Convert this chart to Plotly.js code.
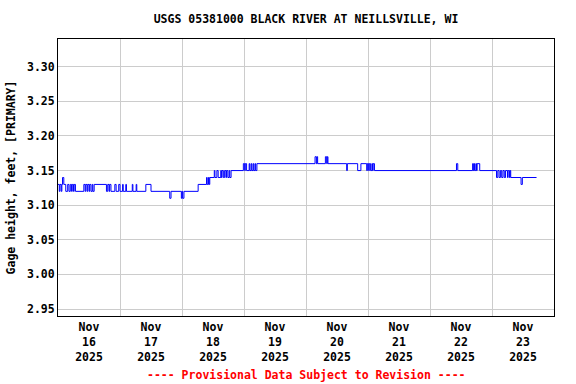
<!DOCTYPE html>
<html>
<head>
<meta charset="utf-8">
<script src="https://cdn.plot.ly/plotly-3.0.1.min.js"></script>
<style>html,body{margin:0;padding:0;background:#fff;}#chart{width:576px;height:384px;}</style>
</head>
<body>
<div id="chart"></div>
<script>
// Gage height readings (change points of a step series)
const times = [
 '2025-11-16 00:00','2025-11-16 00:30','2025-11-16 00:45','2025-11-16 01:15','2025-11-16 01:30','2025-11-16 01:45',
 '2025-11-16 02:15','2025-11-16 03:00','2025-11-16 03:45','2025-11-16 04:15','2025-11-16 04:45','2025-11-16 05:15',
 '2025-11-16 05:30','2025-11-16 06:00','2025-11-16 06:15','2025-11-16 06:45','2025-11-16 10:00','2025-11-16 10:30',
 '2025-11-16 10:45','2025-11-16 11:15','2025-11-16 11:30','2025-11-16 12:00','2025-11-16 12:15','2025-11-16 12:45',
 '2025-11-16 13:15','2025-11-16 13:30','2025-11-16 14:00','2025-11-16 18:45','2025-11-16 19:15','2025-11-16 19:45',
 '2025-11-16 20:00','2025-11-16 20:30','2025-11-16 22:00','2025-11-16 22:30','2025-11-16 23:30',
 '2025-11-17 00:00','2025-11-17 01:00','2025-11-17 01:15','2025-11-17 02:15','2025-11-17 02:30','2025-11-17 04:45',
 '2025-11-17 05:00','2025-11-17 06:15','2025-11-17 06:30','2025-11-17 10:00','2025-11-17 12:00','2025-11-17 19:15',
 '2025-11-17 19:45','2025-11-17 23:45',
 '2025-11-18 00:00','2025-11-18 00:15','2025-11-18 00:45','2025-11-18 06:15','2025-11-18 09:30','2025-11-18 09:45',
 '2025-11-18 10:15','2025-11-18 10:30','2025-11-18 10:45','2025-11-18 12:30','2025-11-18 12:45','2025-11-18 13:30',
 '2025-11-18 14:00','2025-11-18 15:00','2025-11-18 15:15','2025-11-18 15:30','2025-11-18 16:00','2025-11-18 16:30',
 '2025-11-18 17:00','2025-11-18 17:15','2025-11-18 17:45','2025-11-18 18:15','2025-11-18 18:30','2025-11-18 19:00',
 '2025-11-18 23:45',
 '2025-11-19 00:15','2025-11-19 00:30','2025-11-19 01:00','2025-11-19 02:00','2025-11-19 02:15','2025-11-19 02:45',
 '2025-11-19 03:00','2025-11-19 03:30','2025-11-19 03:45','2025-11-19 04:15','2025-11-19 04:30','2025-11-19 05:00',
 '2025-11-20 03:30','2025-11-20 04:00','2025-11-20 04:15','2025-11-20 04:30','2025-11-20 07:30','2025-11-20 08:00',
 '2025-11-20 08:15','2025-11-20 08:30','2025-11-20 15:45','2025-11-20 16:00','2025-11-20 20:00','2025-11-20 21:15',
 '2025-11-20 23:30','2025-11-20 23:45',
 '2025-11-21 00:15','2025-11-21 00:30','2025-11-21 01:00','2025-11-21 01:30','2025-11-21 01:45','2025-11-21 02:00',
 '2025-11-21 02:30',
 '2025-11-22 10:15','2025-11-22 10:45','2025-11-22 16:30','2025-11-22 16:45','2025-11-22 17:00','2025-11-22 17:15',
 '2025-11-22 17:45','2025-11-22 18:00','2025-11-22 18:15','2025-11-22 19:15',
 '2025-11-23 01:45','2025-11-23 02:15','2025-11-23 02:45','2025-11-23 03:15','2025-11-23 03:45','2025-11-23 04:15',
 '2025-11-23 04:45','2025-11-23 05:15','2025-11-23 06:00','2025-11-23 06:15','2025-11-23 06:45','2025-11-23 07:00',
 '2025-11-23 07:15','2025-11-23 11:15','2025-11-23 11:45','2025-11-23 17:15'
];
const gageHeight = [
 3.13,3.12,3.13,3.12,3.13,3.14,
 3.13,3.12,3.13,3.12,3.13,3.12,
 3.13,3.12,3.13,3.12,3.13,3.12,
 3.13,3.12,3.13,3.12,3.13,3.12,
 3.13,3.12,3.13,3.12,3.13,3.12,
 3.13,3.12,3.13,3.12,3.13,
 3.12,3.13,3.12,3.13,3.12,3.13,
 3.12,3.13,3.12,3.13,3.12,3.11,
 3.12,3.11,
 3.12,3.11,3.12,3.13,3.14,3.13,
 3.14,3.13,3.14,3.15,3.14,3.15,
 3.14,3.15,3.14,3.15,3.14,3.15,
 3.14,3.15,3.14,3.15,3.14,3.15,
 3.16,
 3.15,3.16,3.15,3.16,3.15,3.16,
 3.15,3.16,3.15,3.16,3.15,3.16,
 3.17,3.16,3.17,3.16,3.17,3.16,
 3.17,3.16,3.15,3.16,3.15,3.16,
 3.15,3.16,
 3.15,3.16,3.15,3.16,3.15,3.16,
 3.15,
 3.16,3.15,3.16,3.15,3.16,3.15,
 3.16,3.15,3.16,3.15,
 3.14,3.15,3.14,3.15,3.14,3.15,
 3.14,3.15,3.14,3.15,3.14,3.15,
 3.14,3.13,3.14,3.14
];
const yTicks = [2.95, 3.00, 3.05, 3.10, 3.15, 3.20, 3.25, 3.30];
const xRange = ['2025-11-16 00:00', '2025-11-24 00:00'];
const yRange = [2.94, 3.34];

const FONT = {family: 'DejaVu Sans Mono, monospace', size: 11.5, color: '#000', weight: 'bold'};

const trace = {
  x: times, y: gageHeight, type: 'scatter', mode: 'lines',
  line: {color: '#0000ff', width: 1, shape: 'hv'},
  hoverinfo: 'skip'
};

const layout = {
  width: 576, height: 384,
  margin: {l: 58, r: 22, t: 39, b: 68, pad: 0},
  paper_bgcolor: '#fff', plot_bgcolor: '#fff',
  font: FONT,
  showlegend: false,
  title: {text: 'USGS 05381000 BLACK RIVER AT NEILLSVILLE, WI', font: FONT,
          x: 0.5, xref: 'paper', y: 1 - 19/384, yanchor: 'middle'},
  xaxis: {
    type: 'date', range: xRange, tick0: '2025-11-16', dtick: 86400000,
    ticklabelmode: 'period', tickformat: '%b<br>%d<br>%Y',
    showgrid: true, gridcolor: '#cccccc', gridwidth: 1,
    showline: true, linecolor: '#000', linewidth: 1, mirror: true,
    ticks: '', zeroline: false, tickfont: FONT, fixedrange: true
  },
  yaxis: {
    range: yRange, tickvals: yTicks, tickformat: '.2f',
    showgrid: true, gridcolor: '#cccccc', gridwidth: 1,
    showline: true, linecolor: '#000', linewidth: 1, mirror: true,
    ticks: '', zeroline: false, tickfont: FONT,
    title: {text: 'Gage height, feet, [PRIMARY]', font: FONT, standoff: 8}
  },
  annotations: [{
    text: '---- Provisional Data Subject to Revision ----',
    xref: 'paper', yref: 'paper', x: 0.5, y: (316 - 375) / 277,
    xanchor: 'center', yanchor: 'middle', showarrow: false,
    font: {family: FONT.family, size: 11.5, color: '#ff0000', weight: 'bold'}
  }]
};

Plotly.newPlot('chart', [trace], layout, {staticPlot: true, displayModeBar: false});
</script>
</body>
</html>
